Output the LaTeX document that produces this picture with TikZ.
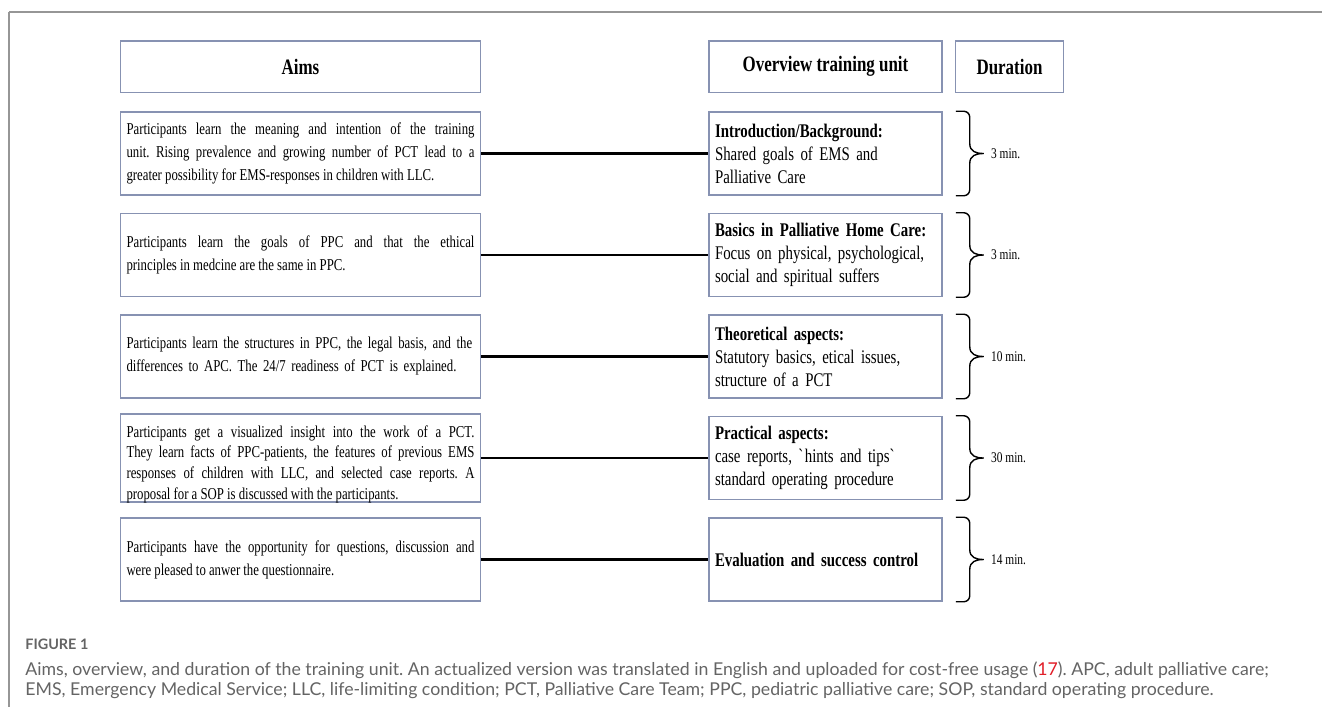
\documentclass[tikz,border=0pt]{standalone}
\usepackage{fontspec}
\setmainfont{Liberation Serif}[FakeStretch=0.77]
\newfontfamily\capfont{Lato}
\usetikzlibrary{positioning,calc}
\definecolor{Frame}{RGB}{135,146,178}
\definecolor{Rule}{RGB}{150,150,150}
\definecolor{Gray}{RGB}{100,100,100}
\definecolor{Cite}{RGB}{225,30,40}
\hyphenpenalty=10000
\frenchspacing
\newcommand\narrowsp{\spaceskip=.19em plus .15em minus .04em\relax}

\begin{document}
\begin{tikzpicture}[x=.5pt,y=-.5pt,node distance=8.5pt,
 h/.style={draw=Frame,line width=.75pt,minimum height=25.75pt,font=\fontsize{11}{12}\selectfont\bfseries},
 am/.style={draw=Frame,line width=.75pt,minimum width=180pt,minimum height=41.5pt,text width=174pt,inner xsep=3pt,inner ysep=0pt,align=justify,font=\fontsize{8.3}{11.5}\selectfont\narrowsp},
 ov/.style={draw=Frame,line width=.75pt,minimum width=116.5pt,minimum height=41.5pt,text width=110.5pt,inner xsep=3pt,inner ysep=0pt,align=left,font=\fontsize{9.65}{11.5}\selectfont\narrowsp},
 ln/.style={line width=1.2pt,black},
 br/.style={line width=.7pt,to path={
  ([xshift=6.5pt]\tikztostart) -- ++(4pt,0) arc[start angle=90,end angle=0,radius=3pt]
  -- ($(\tikztostart)!.5!(\tikztotarget)+(13.5pt,5pt)$) .. controls +(0,-4pt) and +(-4pt,0) .. ($(\tikztostart)!.5!(\tikztotarget)+(20.5pt,0)$)
  .. controls +(-4pt,0) and +(0,4pt) .. ($(\tikztostart)!.5!(\tikztotarget)+(13.5pt,-5pt)$)
  -- ([xshift=13.5pt,yshift=3pt]\tikztotarget) arc[start angle=0,end angle=-90,radius=3pt] -- ([xshift=6.5pt]\tikztotarget)}},
 du/.style={inner sep=0pt,font=\fontsize{7.4}{8}\selectfont},
 cp/.style={anchor=base west,inner sep=0pt,text=Gray,font=\capfont\fontsize{8.85}{10}\selectfont}]
\useasboundingbox (0,0) rectangle (1322,707);
% frame
\draw[Rule,line width=.75pt] (9,12) -- (1322,12);
\draw[Rule,line width=.75pt] (9,12) -- (9,707);
% headers
\node[h,minimum width=116.5pt] (o0) at (825.5,66.75) {Overview training unit};
\node[h,minimum width=180pt,left=113.5pt of o0] (a0) {Aims};
\node[h,minimum width=54pt,right=6pt of o0] (d0) {Duration};
% training unit
\node[ov,below=9pt of o0] (o1) {\textbf{Introduction/Background:}\\Shared goals of EMS and\\Palliative Care};
\node[ov,below=of o1] (o2) {\textbf{Basics in Palliative Home Care:}\\Focus on physical, psychological,\\social and spiritual suffers};
\node[ov,below=of o2] (o3) {\textbf{Theoretical aspects:}\\Statutory basics, etical issues,\\structure of a PCT};
\node[ov,below=of o3] (o4) {\textbf{Practical aspects:}\\case reports, \textasciigrave hints and tips\textasciigrave\\standard operating procedure};
\node[ov,below=of o4] (o5) {\textbf{Evaluation and success control}};
% aims
\node[am,left=113.5pt of o1] (a1) {Participants learn the meaning and intention of the training\linebreak unit. Rising prevalence and growing number of PCT lead to a\linebreak greater possibility for EMS-responses in children with LLC.};
\node[am,left=113.5pt of o2] (a2) {Participants learn the goals of PPC and that the ethical\linebreak principles in medcine are the same in PPC.};
\node[am,left=113.5pt of o3,align=left] (a3) {Participants learn the structures in PPC, the legal basis, and the\\differences to APC. The 24/7 readiness of PCT is explained.};
\node[am,left=113.5pt of o4,text height=11.5pt,text depth=32.5pt,font=\fontsize{8.3}{10.4}\selectfont\narrowsp] (a4) {Participants get a visualized insight into the work of a PCT.\linebreak They learn facts of PPC-patients, the features of previous EMS\linebreak responses of children with LLC, and selected case reports. A\linebreak proposal for a SOP is discussed with the participants.};
\node[am,left=113.5pt of o5] (a5) {Participants have the opportunity for questions, discussion and\linebreak were pleased to anwer the questionnaire.};
\draw[ln] (a1) -- (o1); \draw[ln] (a2) -- (o2); \draw[ln] (a3) -- (o3);
\draw[ln] (a4) -- (o4); \draw[ln] (a5) -- (o5);
% durations
\draw[br] (o1.north east) to (o1.south east);
\draw[br] (o2.north east) to (o2.south east);
\draw[br] (o3.north east) to (o3.south east);
\draw[br] (o4.north east) to (o4.south east);
\draw[br] (o5.north east) to (o5.south east);
\node[du,right=24pt of o1] (d1) {3 min.};
\node[du,right=24pt of o2] (d2) {3 min.};
\node[du,right=24pt of o3] (d3) {10 min.};
\node[du,right=24pt of o4] (d4) {30 min.};
\node[du,right=24pt of o5] (d5) {14 min.};
% caption
\node[cp,font=\capfont\bfseries\fontsize{7.2}{9}\selectfont] (fig) at (25,649) {FIGURE 1};
\node[cp] (c1) at (25,675) {Aims, overview, and duration of the training unit. An actualized version was translated in English and uploaded for cost-free usage (\textcolor{Cite}{17}). APC, adult palliative care;};
\node[cp] (c2) at (25,695) {EMS, Emergency Medical Service; LLC, life-limiting condition; PCT, Palliative Care Team; PPC, pediatric palliative care; SOP, standard operating procedure.};
\end{tikzpicture}
\end{document}
